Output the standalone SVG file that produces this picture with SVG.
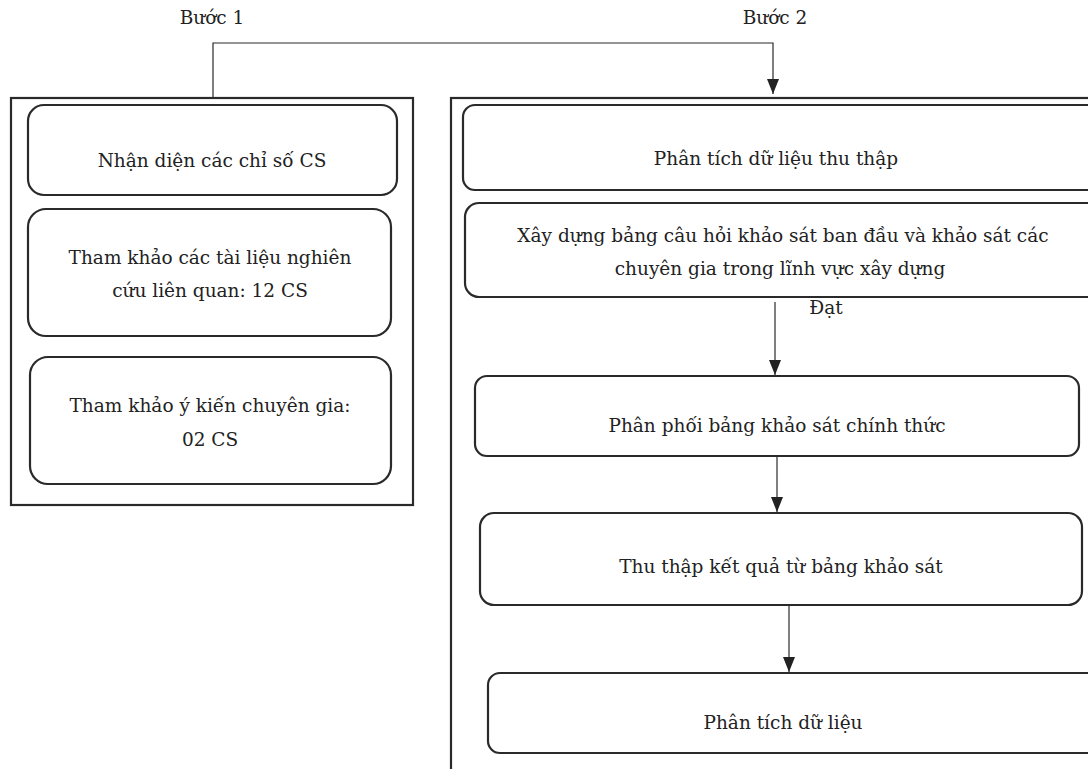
<svg xmlns="http://www.w3.org/2000/svg" width="1088" height="769" viewBox="0 0 1088 769">
<defs>
<marker id="arr" viewBox="0 0 15 12" refX="15" refY="6" markerWidth="15" markerHeight="12" markerUnits="userSpaceOnUse" orient="auto">
<path d="M0,0 L15,6 L0,12 z" fill="#222"/>
</marker>
<style>
text{font-family:"DejaVu Serif","Liberation Serif",serif;font-size:18.5px;fill:#222;text-anchor:middle}
.outer{fill:none;stroke:#2a2a2a;stroke-width:2.2}
.box{fill:#fff;stroke:#2a2a2a;stroke-width:2.2}
.conn{fill:none;stroke:#2a2a2a;stroke-width:1.2}
</style>
</defs>
<rect width="1088" height="769" fill="#fff"/>
<text x="212" y="24">Bước 1</text>
<text x="775" y="24">Bước 2</text>
<g id="step1">
<rect class="outer" x="11" y="98" width="402" height="407"/>
</g>
<g id="step2">
<rect class="outer" x="451" y="98" width="660" height="700"/>
</g>
<g id="n1"><rect class="box" x="28" y="105" width="369" height="90" rx="16"/><text x="212" y="167">Nhận diện các chỉ số CS</text></g>
<g id="n2"><rect class="box" x="28" y="209" width="363" height="127" rx="18"/><text x="210" y="264">Tham khảo các tài liệu nghiên</text><text x="210" y="297">cứu liên quan: 12 CS</text></g>
<g id="n3"><rect class="box" x="30" y="357" width="361" height="127" rx="18"/><text x="210" y="412">Tham khảo ý kiến chuyên gia:</text><text x="210" y="446">02 CS</text></g>
<g id="n4"><rect class="box" x="463" y="105" width="640" height="85" rx="12"/><text x="776" y="165">Phân tích dữ liệu thu thập</text></g>
<g id="n5"><rect class="box" x="465" y="203" width="640" height="94" rx="14"/><text x="783" y="242">Xây dựng bảng câu hỏi khảo sát ban đầu và khảo sát các</text><text x="780" y="275">chuyên gia trong lĩnh vực xây dựng</text></g>
<g id="n6"><rect class="box" x="475" y="376" width="604" height="80" rx="12"/><text x="777" y="432">Phân phối bảng khảo sát chính thức</text></g>
<g id="n7"><rect class="box" x="480" y="513" width="602" height="92" rx="14"/><text x="781" y="573">Thu thập kết quả từ bảng khảo sát</text></g>
<g id="n8"><rect class="box" x="488" y="673" width="620" height="80" rx="12"/><text x="783" y="729">Phân tích dữ liệu</text></g>
<g id="connectors">
<polyline class="conn" points="213,98 213,43 773,43 773,94" marker-end="url(#arr)"/>
<line class="conn" x1="775" y1="302" x2="775" y2="375" marker-end="url(#arr)"/>
<text x="826" y="314">Đạt</text>
<line class="conn" x1="777" y1="457" x2="777" y2="512" marker-end="url(#arr)"/>
<line class="conn" x1="789" y1="606" x2="789" y2="672" marker-end="url(#arr)"/>
</g>
</svg>
